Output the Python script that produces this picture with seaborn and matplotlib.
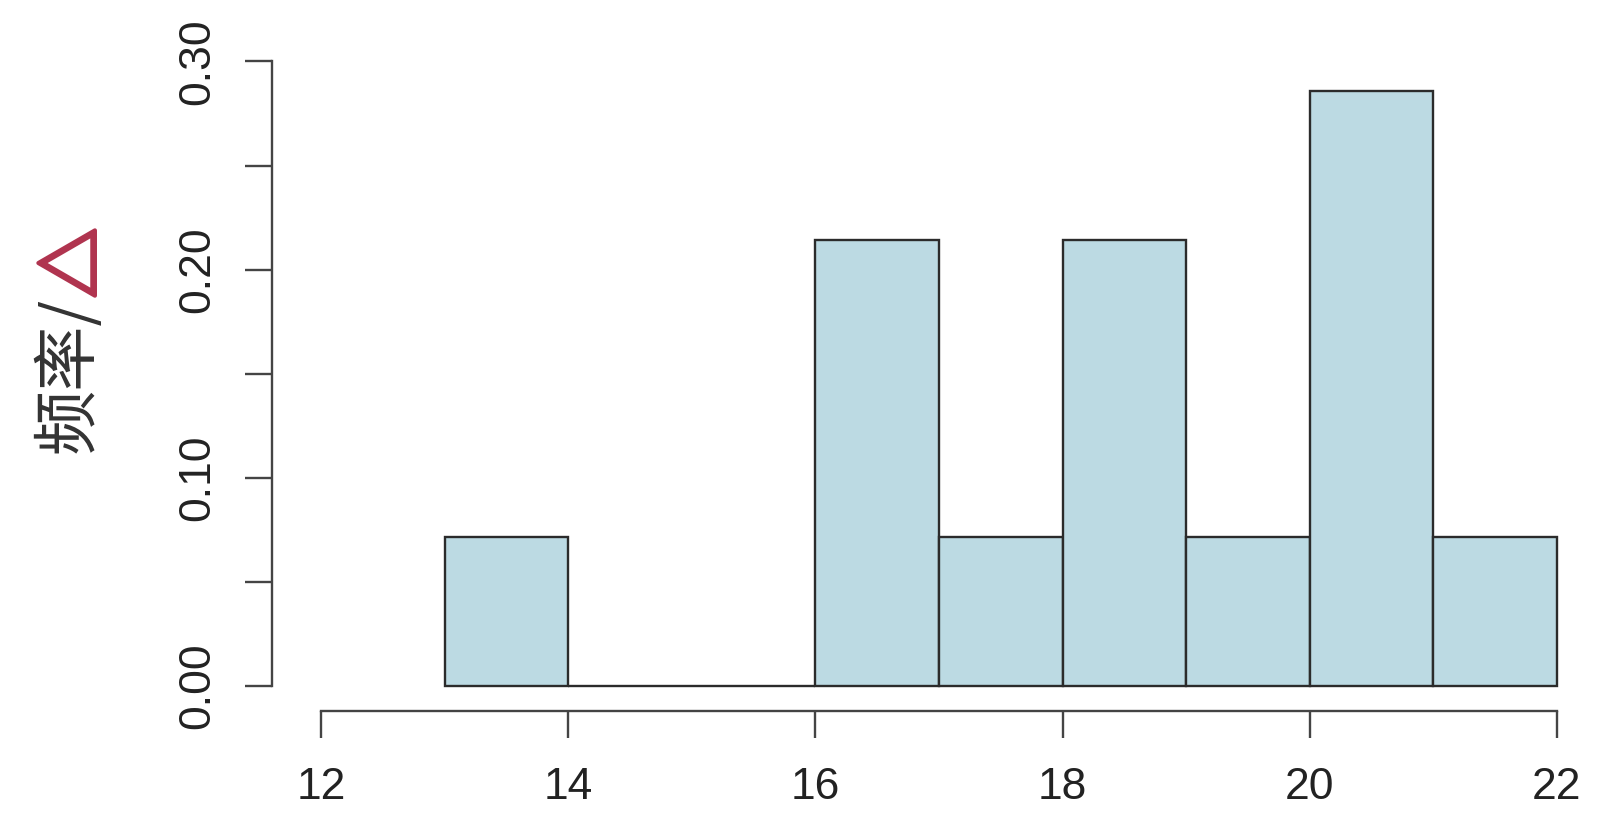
import seaborn as sns
from matplotlib import pyplot as plt
from matplotlib import patheffects as pe
from matplotlib.ticker import MultipleLocator

# 直方图数据 (组中值, 频率/组距)
bin_edges = [13, 14, 15, 16, 17, 18, 19, 20, 21, 22]
bin_mids = [13.5, 14.5, 15.5, 16.5, 17.5, 18.5, 19.5, 20.5, 21.5]
heights = [0.0714, 0.0, 0.0, 0.2143, 0.0714, 0.2143, 0.0714, 0.2857, 0.0714]

x_ticks = [12, 14, 16, 18, 20, 22]
y_ticks = [0.00, 0.10, 0.20, 0.30]
y_labels = ["0.00", "0.10", "0.20", "0.30"]

sns.set_style("white")
plt.rcParams['font.family'] = ['Liberation Sans', 'DejaVu Sans']

fig = plt.figure(figsize=(16.04, 8.24), dpi=100)
ax = fig.add_axes([0.1693, 0.1371, 0.8322, 0.8136])

sns.histplot(x=bin_mids, weights=heights, bins=bin_edges, stat="count",
             color="#bcdae3", edgecolor="#2b2b2b", linewidth=1.7, alpha=1,
             ax=ax)

ax.set_xlim(11.6, 22.4)
ax.set_ylim(-0.012, 0.31)

for s in ["top", "right"]:
    ax.spines[s].set_visible(False)
ax.spines["left"].set_bounds(0, 0.3)
ax.spines["bottom"].set_bounds(12, 22)
for s in ["left", "bottom"]:
    ax.spines[s].set_color("#444444")
    ax.spines[s].set_linewidth(1.7)

ax.set_xticks(x_ticks)
ax.set_xticklabels([str(t) for t in x_ticks])
ax.set_yticks(y_ticks)
ax.set_yticklabels(y_labels)
ax.yaxis.set_minor_locator(MultipleLocator(0.05))

ax.tick_params(axis="both", which="both", length=19.5, width=1.7,
               color="#444444", labelsize=32, labelcolor="#222222",
               direction="out", left=True, bottom=True)
ax.tick_params(axis="x", pad=21)
ax.tick_params(axis="y", pad=19)
plt.setp(ax.get_yticklabels(), rotation=90, va="center")

ax.set_xlabel("")
ax.set_ylabel("")

cjk = ['Noto Sans CJK SC', 'DejaVu Sans']
fig.text(69 / 1604, 1 - 375 / 824, "频率/", rotation=90, ha="center",
         va="center", fontsize=47, color="#333333", family=cjk)
fig.text(76 / 1604, 1 - 263 / 824, "△", rotation=90, ha="center",
         va="center", fontsize=50, color="#b0344f", family=cjk,
         path_effects=[pe.withStroke(linewidth=3, foreground="#b0344f")])

fig.savefig("out.png", dpi=100)
